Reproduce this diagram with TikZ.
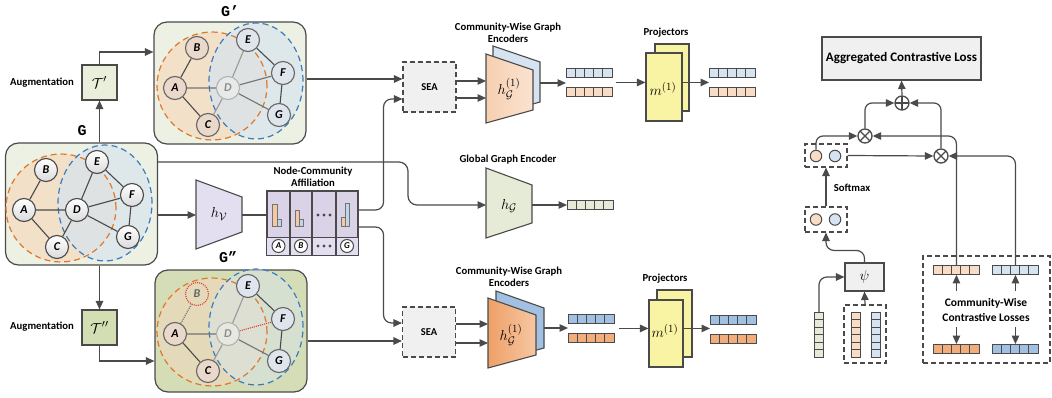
\documentclass[tikz,border=0pt]{standalone}
\usepackage{fontspec}
\setsansfont{Carlito}
\newfontfamily\gfont{Liberation Mono}
\usetikzlibrary{arrows.meta,calc}
\definecolor{lineg}{HTML}{4A4A4A}
\definecolor{boxG}{HTML}{EDF1E3}
\definecolor{boxGG}{HTML}{D4DDB5}
\definecolor{orD}{HTML}{E0782A}
\definecolor{blD}{HTML}{3A7BBE}
\definecolor{orR}{HTML}{F5D9BD}
\definecolor{blR}{HTML}{D8E4EE}
\definecolor{orL}{HTML}{F9DCC6}
\definecolor{blL}{HTML}{D6E4F1}
\definecolor{orM}{HTML}{F1AD7B}
\definecolor{blM}{HTML}{A2C1E2}
\definecolor{lavA}{HTML}{E3DFF0}
\definecolor{lavB}{HTML}{DAD3E8}
\definecolor{yelP}{HTML}{F9F3A4}
\definecolor{grayF}{HTML}{F0F0F0}
\definecolor{grnL}{HTML}{E5EBD6}
\definecolor{tgA}{HTML}{E9EFDB}
\definecolor{tgB}{HTML}{D3DEB3}
\definecolor{redD}{HTML}{E0403A}
\definecolor{nO}{HTML}{EAD9CB}
\definecolor{nB}{HTML}{DFE5ED}
\definecolor{encA}{HTML}{F6CFB0}
\definecolor{encB}{HTML}{FBE3D1}
\definecolor{encC}{HTML}{EFA068}
\definecolor{encD}{HTML}{F6C7A3}
\definecolor{barO}{HTML}{F6C8A2}
\definecolor{barB}{HTML}{BED6EC}
\pgfdeclarelayer{back}\pgfdeclarelayer{mid}\pgfsetlayers{back,mid,main}
\newcommand\myregions[1]{%
 \fill[orR,fill opacity=#1] (61,208) ellipse [x radius=55pt,y radius=54pt];
 \fill[blR,fill opacity=#1] (105,203) ellipse [x radius=47pt,y radius=58pt];
 \draw[orE] (61,208) ellipse [x radius=55pt,y radius=54pt];
 \draw[blE] (105,203) ellipse [x radius=47pt,y radius=58pt];}
\newcommand\mygraph[8]{%
 \node[#2] (#1A) at (24,210) {A};
 \node[#3] (#1B) at (46,170) {B};
 \node[#4] (#1C) at (57,247) {C};
 \node[#5] (#1D) at (77,210) {D};
 \node[#6] (#1E) at (97,162) {E};
 \node[#7] (#1F) at (132,195) {F};
 \node[#8] (#1G) at (128,237) {G};}
\newcommand\myhvec[4]{%
 \node[draw=lineg,line width=0.9pt,fill=#4,minimum width=46pt,minimum height=9pt,inner sep=0pt,anchor=north west] (#1) at (#2,#3) {};
 \foreach \i in {1,...,4} \draw[lineg,line width=0.9pt] ($(#1.north west)+(\i*9.2,0)$) -- ($(#1.south west)+(\i*9.2,0)$);}
\newcommand\myvvec[4]{%
 \node[draw=lineg,line width=0.9pt,fill=#4,minimum width=9pt,minimum height=45pt,inner sep=0pt,anchor=north west] (#1) at (#2,#3) {};
 \foreach \i in {1,...,5} \draw[lineg,line width=0.9pt] ($(#1.north west)+(0,\i*7.5)$) -- ($(#1.north east)+(0,\i*7.5)$);}
\begin{document}
\begin{tikzpicture}[x=1pt,y=-1pt,
 ln/.style={draw=lineg,line width=1.2pt},
 arr/.style={draw=lineg,line width=1.2pt,-{Triangle[length=8.5pt,width=7.5pt]}},
 lab/.style={font=\sffamily\bfseries\fontsize{10.7}{12}\selectfont,align=center,inner sep=0pt},
 glab/.style={font=\gfont\bfseries\fontsize{15}{15}\selectfont,inner sep=0pt},
 gbx/.style={draw=lineg,line width=1.2pt,rounded corners=13pt,minimum width=152pt,minimum height=122pt,inner sep=0pt},
 gnb/.style={circle,draw=lineg,line width=1.1pt,minimum size=23pt,inner sep=0pt,font=\sffamily\bfseries\itshape\fontsize{12}{12}\selectfont},
 gn/.style={gnb,top color=white,bottom color=black!14},
 gnO/.style={gnb,draw=black!60,fill=nO},
 gnB/.style={gnb,draw=black!60,fill=nB},
 gnD/.style={gnb,draw=black!30,fill=white,fill opacity=0.3,text opacity=1,text=black!45},
 gnX/.style={gnb,draw=redD,densely dotted,text=black!60},
 ge/.style={draw=lineg,line width=1.1pt},
 geF/.style={draw=black!40,line width=1.1pt},
 geM/.style={draw=black!55,line width=1.1pt},
 orE/.style={draw=orD,line width=1.2pt,dash pattern=on 6pt off 4pt},
 blE/.style={draw=blD,line width=1.2pt,dash pattern=on 6pt off 4pt},
 tbx/.style={draw=lineg,line width=1.1pt,minimum size=35pt,inner sep=0pt,font=\fontsize{15}{15}\selectfont},
 seab/.style={draw=lineg,line width=1.1pt,dash pattern=on 5pt off 3pt,fill=grayF,minimum width=53pt,minimum height=50pt,font=\sffamily\bfseries\fontsize{10.5}{10.5}\selectfont},
 trap/.style={draw=lineg,line width=1.1pt},
 mth/.style={font=\fontsize{15}{15}\selectfont,inner sep=0pt},
 prj/.style={draw=lineg,line width=1.1pt,fill=yelP,inner sep=0pt},
 ops/.style={circle,draw=lineg,line width=1.3pt,minimum size=14pt,inner sep=0pt,fill=white},
 dbx/.style={draw=lineg,line width=1.1pt,dash pattern=on 5pt off 3pt,inner sep=0pt},
 smc/.style={circle,draw=lineg,line width=1pt,minimum size=11.5pt,inner sep=0pt},
 bar/.style={draw=black!55,line width=0.6pt},
 cl/.style={circle,draw=lineg,line width=1pt,minimum size=13pt,inner sep=0pt,font=\sffamily\bfseries\itshape\fontsize{9}{9}\selectfont},
]
\useasboundingbox (0,0) rectangle (1052,398);

% ---------- Graph G
\begin{pgfonlayer}{back}
\node[gbx,fill=boxG] (gbox) at (81.5,204) {};
\myregions{0.7}
\end{pgfonlayer}
\mygraph{g}{gn}{gn}{gn}{gn}{gn}{gn}{gn}
\begin{pgfonlayer}{mid}
\draw[ge] (gA)--(gB) (gA)--(gD) (gA)--(gC) (gD)--(gC) (gD)--(gE) (gD)--(gF) (gD)--(gG) (gE)--(gF) (gF)--(gG);
\end{pgfonlayer}
\node[glab] (lG) at (82,131) {G};

% ---------- Graph G'
\begin{pgfonlayer}{back}
\node[gbx,fill=boxG] (pbox) at (230,83) {};
\begin{scope}[shift={(151,-122)}]\myregions{0.7}\end{scope}
\end{pgfonlayer}
\begin{scope}[shift={(151,-122)}]
\mygraph{p}{gnO}{gnO}{gnO}{gnD}{gnB}{gnB}{gnB}
\end{scope}
\begin{pgfonlayer}{mid}
\draw[ge] (pA)--(pB) (pA)--(pC) (pE)--(pF) (pF)--(pG);
\draw[geM] (pA)--(pD) (pD)--(pF) (pD)--(pG);
\draw[geF] (pD)--(pC) (pD)--(pE);
\end{pgfonlayer}
\node[glab] (lGp) at (230,11) {G’};

% ---------- Graph G''
\begin{pgfonlayer}{back}
\node[gbx,fill=boxGG] (qbox) at (231,331) {};
\begin{scope}[shift={(151,124)}]\myregions{0.5}\end{scope}
\end{pgfonlayer}
\begin{scope}[shift={(151,124)}]
\mygraph{q}{gnO}{gnX}{gnO}{gnD}{gnB}{gnB}{gnB}
\end{scope}
\begin{pgfonlayer}{mid}
\draw[ge] (qA)--(qC) (qE)--(qF) (qF)--(qG);
\draw[geM] (qA)--(qD) (qD)--(qG);
\draw[geF] (qD)--(qC) (qD)--(qE);
\draw[draw=black!55,line width=1.1pt,densely dotted] (qA)--(qB);
\draw[draw=redD,line width=1.1pt,densely dotted] (qD)--(qF);
\end{pgfonlayer}
\node[glab] (lGpp) at (228,257) {G”};

% ---------- Augmentations
\node[tbx,fill=tgA] (Tp) at (99.5,82.5) {$\mathcal{T}'$};
\node[tbx,fill=tgB] (Tpp) at (99.5,327.5) {$\mathcal{T}''$};
\node[lab] (aug1) at (42,83) {Augmentation};
\node[lab] (aug2) at (42,327) {Augmentation};
\draw[arr] (Tp.south |- gbox.north) -- (Tp.south);
\coordinate (pin) at ([yshift=31pt]pbox.west);
\draw[arr] (Tp.north) |- (pin);
\draw[arr] (Tpp.north |- gbox.south) -- (Tpp.north);
\coordinate (qin) at ([yshift=-30pt]qbox.west);
\draw[arr] (Tpp.south) |- (qin);

% ---------- h_V
\path[trap,fill=lavA] (196,180) -- (242,197) -- (242,232) -- (196,249) -- cycle;
\node[mth] (hv) at (219,214) {$h_{\mathcal{V}}$};
\coordinate (hvin) at (196,215);
\coordinate (hvout) at (242,215);
\coordinate (gmid) at ([yshift=-11pt]gbox.east);
\draw[arr] (gmid) -- (hvin);

% ---------- Affiliation
\node[draw=lineg,line width=1.1pt,fill=lavB,minimum width=91pt,minimum height=64pt,inner sep=0pt] (aff) at (312.5,223) {};
\fill[lavA] ($(aff.south west)+(0.6,-18)$) rectangle ($(aff.south east)+(-0.6,-0.6)$);
\draw[ln] ($(aff.south west)+(0,-18)$) -- ($(aff.south east)+(0,-18)$);
\foreach \xx in {290,312,336} \draw[ln] (\xx,191) -- (\xx,255);
\draw[ln] (aff.north west) rectangle (aff.south east);
\draw[ln] (hvout) -- (hvout -| aff.west);
\node[lab] (afflab) at (313,177) {Node-Community\\Affiliation};
\draw[bar,fill=barO] (272,204) rectangle (277,226);
\draw[bar,fill=barB] (277,219) rectangle (281,226);
\draw[bar,fill=barO] (295,210) rectangle (299,226);
\draw[bar,fill=barB] (299,219) rectangle (303,226);
\draw[bar,fill=barO] (341,217) rectangle (345,226);
\draw[bar,fill=barB] (345,203) rectangle (349,226);
\foreach \xx in {318,324,330} {\fill[lineg] (\xx,215) circle (1.6pt); \fill[lineg] (\xx,246) circle (1.6pt);}
\node[cl,fill=white] (cA) at (278.5,246) {A};
\node[cl,fill=white] (cB) at (301,246) {B};
\node[cl,fill=white] (cG) at (347,246) {G};

% ---------- SEA boxes
\node[seab] (sea1) at (429.5,87) {SEA};
\node[seab] (sea2) at (429,332) {SEA};
\coordinate (pout) at ([yshift=4pt]pbox.east);
\draw[arr] (pout) -- (pout -| sea1.west);
\coordinate (qout) at ([yshift=-10pt]qbox.east);
\draw[arr] (qout) -- (qout -| sea2.west);
\coordinate (affo1) at ([yshift=13pt]aff.east);
\coordinate (affo2) at ([yshift=-4pt]aff.east);
\coordinate (sea1in) at ([yshift=-12pt]sea1.west);
\coordinate (sea2in) at ([yshift=9pt]sea2.west);
\draw[arr,rounded corners=8pt] (affo1) -- ++(25,0) |- (sea1in);
\draw[arr,rounded corners=8pt] (affo2) -- ++(25,0) |- (sea2in);

% ---------- Global encoder
\path[trap,fill=grnL] (486,168) -- (532,185) -- (532,223) -- (486,238) -- cycle;
\node[mth] (genc) at (509,206) {$h_{\mathcal{G}}$};
\coordinate (genin) at (486,205);
\coordinate (genout) at (532,205);
\node[lab] (genlab) at (508,160) {Global Graph Encoder};
\coordinate (gout) at ([yshift=42pt]gbox.east);
\draw[arr,rounded corners=9pt] (gout) -| ($(genin)+(-78,0)$) -- (genin);
\myhvec{gv}{567}{200}{grnL}
\draw[arr] (genout) -- (genout -| gv.west);

% ---------- Community-wise encoder (top)
\path[trap,fill=blL] (493,46) -- (540,62) -- (540,102) -- (493,115) -- cycle;
\path[trap,left color=encA,right color=encB] (486,54) -- (533,70) -- (533,110) -- (486,123) -- cycle;
\node[mth] (enc1) at (509,89) {$h_{\mathcal{G}}^{(1)}$};
\coordinate (e1L) at (486,89);
\coordinate (e1R) at (540,83);
\node[lab] (enc1lab) at (508,33) {Community-Wise Graph\\Encoders};
\coordinate (s1a) at ([yshift=6pt]sea1.east);
\coordinate (s1b) at ([yshift=-11pt]sea1.east);
\draw[arr] (s1a) -- (s1a -| e1L);
\draw[arr] (s1b) -- (s1b -| e1L);
\myhvec{v1b}{566}{68}{blL}
\myhvec{v1o}{566}{87}{orL}
\draw[arr] (e1R) -- (e1R -| v1b.west);
\node[prj,minimum width=34pt,minimum height=67pt] (p1b) at (672,77.5) {};
\node[prj,minimum width=36pt,minimum height=68pt] (p1) at (664,87) {};
\node[mth] (m1) at (663,89) {$m^{(1)}$};
\node[lab] (prj1lab) at (666,33) {Projectors};
\coordinate (v1m) at ($(v1b.south east)!0.5!(v1o.north east)$);
\draw[arr] ([xshift=3pt]v1m) -- (v1m -| p1.west);
\myhvec{w1b}{709}{68}{blL}
\myhvec{w1o}{709}{87}{orL}
\draw[arr] (p1.east |- v1m) -- (v1m -| w1b.west);

% ---------- Community-wise encoder (bottom)
\path[trap,fill=blM] (496,291) -- (544,308) -- (544,348) -- (496,361) -- cycle;
\path[trap,left color=encC,right color=encD] (488,298) -- (536,315) -- (536,355) -- (488,368) -- cycle;
\node[mth] (enc2) at (511,335) {$h_{\mathcal{G}}^{(1)}$};
\coordinate (e2L) at (488,334);
\coordinate (e2R) at (544,328);
\node[lab] (enc2lab) at (509,277) {Community-Wise Graph\\Encoders};
\coordinate (s2a) at ([yshift=8pt]sea2.east);
\coordinate (s2b) at ([yshift=-11pt]sea2.east);
\draw[arr] (s2a) -- (s2a -| e2L);
\draw[arr] (s2b) -- (s2b -| e2L);
\myhvec{v2b}{568}{314}{blM}
\myhvec{v2o}{568}{333}{orM}
\draw[arr] (e2R) -- (e2R -| v2b.west);
\node[prj,minimum width=35pt,minimum height=67pt] (p2b) at (674.5,323.5) {};
\node[prj,minimum width=34pt,minimum height=67pt] (p2) at (666,333.5) {};
\node[mth] (m2) at (665,331) {$m^{(1)}$};
\node[lab] (prj2lab) at (665,279) {Projectors};
\coordinate (v2m) at ($(v2b.south east)!0.5!(v2o.north east)$);
\draw[arr] ([xshift=4pt]v2m) -- (v2m -| p2.west);
\myhvec{w2b}{710}{315}{blM}
\myhvec{w2o}{710}{334}{orM}
\draw[arr] (p2.east |- v2m) -- (v2m -| w2b.west);

% ---------- Right part
\node[draw=lineg,line width=1.1pt,fill=grayF,minimum width=159pt,minimum height=43pt,inner sep=0pt,font=\sffamily\bfseries\fontsize{13}{13}\selectfont] (agg) at (901.5,58.5) {Aggregated Contrastive Loss};
\node[ops,path picture={\draw[lineg,line width=1.2pt] ([xshift=-7pt]path picture bounding box.center) -- ([xshift=7pt]path picture bounding box.center) ([yshift=-7pt]path picture bounding box.center) -- ([yshift=7pt]path picture bounding box.center);}] (op) at (902,103) {};
\node[ops,path picture={\draw[lineg,line width=1.2pt] ([shift={(-5pt,-5pt)}]path picture bounding box.center) -- ([shift={(5pt,5pt)}]path picture bounding box.center) ([shift={(-5pt,5pt)}]path picture bounding box.center) -- ([shift={(5pt,-5pt)}]path picture bounding box.center);}] (ot1) at (865,136) {};
\node[ops,path picture={\draw[lineg,line width=1.2pt] ([shift={(-5pt,-5pt)}]path picture bounding box.center) -- ([shift={(5pt,5pt)}]path picture bounding box.center) ([shift={(-5pt,5pt)}]path picture bounding box.center) -- ([shift={(5pt,-5pt)}]path picture bounding box.center);}] (ot2) at (941,156) {};
\draw[arr] (op.north) -- (agg.south);
\node[dbx,minimum width=42pt,minimum height=23pt] (smb) at (826,155.5) {};
\node[smc,fill=orL] (co1) at (816,156) {};
\node[smc,fill=blL] (cb1) at (835,156) {};
\node[dbx,minimum width=42pt,minimum height=25pt] (psm) at (826,219.5) {};
\node[smc,fill=orL] (co2) at (816,219.5) {};
\node[smc,fill=blL] (cb2) at (835,219.5) {};
\node[lab] (smlab) at (852,188) {Softmax};
\node[draw=lineg,line width=1.1pt,fill=grayF,minimum width=39pt,minimum height=28pt,inner sep=0pt,font=\fontsize{15}{15}\selectfont] (psi) at (864.5,277) {$\psi$};
\myvvec{gvv}{814}{312}{grnL}
\node[dbx,minimum width=42pt,minimum height=58pt] (db2) at (865,334) {};
\myvvec{ovv}{851}{312}{orL}
\myvvec{bvv}{871}{312}{blL}
\node[dbx,minimum width=127pt,minimum height=107pt] (cwl) at (986.5,309.5) {};
\myhvec{ovt}{933}{265}{orL}
\myhvec{bvt}{992}{265}{blL}
\myhvec{ovb}{933}{344}{orM}
\myhvec{bvb}{992}{344}{blM}
\node[lab,font=\sffamily\bfseries\fontsize{11.5}{15}\selectfont] (cwlab) at (986,310) {Community-Wise\\Contrastive Losses};
\draw[arr] ([yshift=-16pt]ovt.south) -- (ovt.south);
\draw[arr] ([yshift=-16pt]bvt.south) -- (bvt.south);
\draw[arr] ([yshift=17pt]ovb.north) -- (ovb.north);
\draw[arr] ([yshift=17pt]bvb.north) -- (bvb.north);
\draw[arr,rounded corners=7pt] (ot1.north) |- (op.west);
\draw[arr,rounded corners=7pt] (ot2.north) |- (op.east);
\draw[arr,rounded corners=7pt] (co1.north) |- (ot1.west);
\draw[arr] (smb.east) -- (ot2.west);
\draw[arr,rounded corners=8pt] (ovt.north) |- (ot1.east);
\draw[arr,rounded corners=8pt] (bvt.north) |- (ot2.east);
\draw[arr] (psm.north) -- (smb.south);
\draw[arr,rounded corners=8pt] (psi.north) -- ++(0,-12) -| (psm.south);
\draw[arr,rounded corners=8pt] (gvv.north) |- (psi.west);
\draw[arr] (db2.north) -- (psi.south);
\end{tikzpicture}
\end{document}
